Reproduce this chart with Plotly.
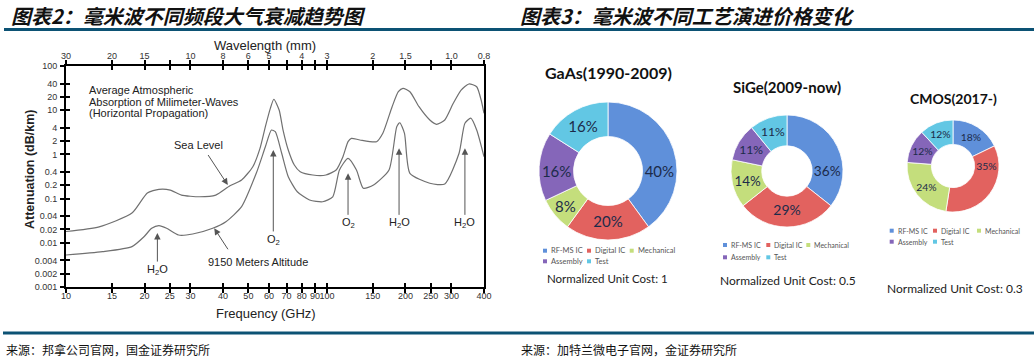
import math
import plotly.graph_objects as go

W, H = 1034, 364

# ---------------- data: atmospheric attenuation (left) ----------------
freq_sea = [10, 13.4, 17.9, 20.5, 22.7, 25.1, 27.7, 32.5, 37.5, 42.5, 47.1, 52, 55.4, 58.1,
            60.7, 62.6, 65.6, 67.9, 71.1, 75, 79, 88.3, 99.1, 108.5, 115.2, 120.5, 124.1,
            133.8, 155, 163.8, 177.8, 187.8, 195.6, 208, 225.4, 248, 263, 283, 305, 326.8,
            350, 375, 390, 400]
att_sea = [0.018, 0.023, 0.047, 0.134, 0.162, 0.156, 0.12, 0.11, 0.12, 0.195, 0.264, 0.527,
           1.37, 4.24, 11.0, 17.7, 10.1, 3.56, 1.26, 0.575, 0.406, 0.342, 0.342, 0.444, 0.887,
           1.94, 2.31, 2.12, 1.94, 3.0, 12.0, 26.2, 31.3, 26.2, 12.0, 6.0, 4.8, 6.0, 14.3,
           28.6, 39.2, 34.0, 17.0, 8.5]
freq_alt = [10, 13.8, 17.9, 19.9, 21.3, 22.7, 24.3, 27.0, 30.6, 36.5, 41, 47.1, 53.6, 58.1,
            61.3, 63.4, 67.1, 71.1, 77, 85.8, 96.3, 105.3, 111.7, 120.5, 129.8, 137.9, 150.9,
            173, 185.2, 190.3, 198.3, 208, 248, 283, 321, 338, 356, 375, 400]
att_alt = [0.0053, 0.0063, 0.0082, 0.0137, 0.0213, 0.0244, 0.0213, 0.015, 0.0158, 0.0213,
           0.030, 0.0656, 0.373, 1.49, 3.56, 3.26, 1.06, 0.313, 0.143, 0.093, 0.085, 0.110,
           0.444, 0.817, 0.444, 0.171, 0.203, 0.444, 4.24, 5.2, 3.0, 0.373, 0.222, 0.214,
           1.06, 5.06, 6.6, 3.56, 0.887]

freq_ticks = [10, 15, 20, 25, 30, 40, 50, 60, 70, 80, 90, 100, 150, 200, 250, 300, 400]
freq_tick_labels = [str(v) for v in freq_ticks]
att_ticks = [100, 40, 20, 10, 4, 2, 1, 0.4, 0.2, 0.1, 0.04, 0.02, 0.01, 0.004, 0.002, 0.001]
att_tick_labels = ["100", "40", "20", "10", "4", "2", "1", "0.4", "0.2", "0.1", "0.04",
                   "0.02", "0.01", "0.004", "0.002", "0.001"]
wave_label_freq = [10, 15, 20, 30, 40, 50, 60, 80, 100, 150, 200, 300, 400]
wave_labels = ["30", "20", "15", "10", "8", "6", "5", "4", "3", "2", "1.5", "1.0", "0.8"]

# absorption-line markers: (label, frequency GHz, attenuation at arrow tip, text offset px)
lines_lbl = ["H<sub>2</sub>O", "O<sub>2</sub>", "O<sub>2</sub>", "H<sub>2</sub>O", "H<sub>2</sub>O"]
lines_freq = [22.4, 62.3, 120.5, 189, 338]
lines_att = [0.0166, 1.26, 0.373, 1.37, 1.37]
lines_off = [37, 90, 50, 75, 75]

# ---------------- data: donuts (right) ----------------
segments = ["RF-MS IC", "Digital IC", "Mechanical", "Assembly", "Test"]
seg_colors = ["#5F90DA", "#E2625F", "#C4DE7C", "#8566B9", "#62C7E4"]
donut_titles = ["GaAs(1990-2009)", "SiGe(2009-now)", "CMOS(2017-)"]
donut_costs = ["Normalized Unit Cost: 1", "Normalized Unit Cost: 0.5", "Normalized Unit Cost: 0.3"]
gaas_share = [40, 20, 8, 16, 16]
sige_share = [36, 29, 14, 11, 11]
cmos_share = [18, 35, 24, 12, 12]


def px(x):
    return x / W


def py(y):
    return 1 - y / H


LF = "Liberation Sans, Arial, sans-serif"
RF = "Lato, Open Sans, sans-serif"
CJK = "Noto Sans CJK SC"

fig = go.Figure()

fig.add_trace(go.Scatter(x=freq_sea, y=att_sea, mode="lines", line=dict(color="#707070", width=1.2,
                         shape="spline", smoothing=0.6), showlegend=False, hoverinfo="skip"))
fig.add_trace(go.Scatter(x=freq_alt, y=att_alt, mode="lines", line=dict(color="#707070", width=1.2,
                         shape="spline", smoothing=0.6), showlegend=False, hoverinfo="skip"))
# helpers to make overlay axes exist
fig.add_trace(go.Scatter(x=[10], y=[1], xaxis="x2", yaxis="y", mode="markers",
                         marker=dict(opacity=0), showlegend=False, hoverinfo="skip"))
fig.add_trace(go.Scatter(x=[10], y=[1], xaxis="x3", yaxis="y3", mode="markers",
                         marker=dict(opacity=0), showlegend=False, hoverinfo="skip"))

xr = [1, math.log10(400)]
yr = [-3, 2]
xdom = [px(66), px(484)]
ydom = [py(287), py(66)]
tickfont = dict(family=LF, size=9, color="#333")

fig.update_layout(
    width=W, height=H, margin=dict(l=0, r=0, t=0, b=0, pad=0, autoexpand=False),
    paper_bgcolor="white", plot_bgcolor="white",
    xaxis=dict(type="log", range=xr, domain=xdom, anchor="y", tickmode="array",
               tickvals=freq_ticks, ticktext=freq_tick_labels, ticks="outside", ticklen=4,
               tickwidth=1.5, tickcolor="black", showline=True, linecolor="black", linewidth=2,
               mirror="ticks", showgrid=False, zeroline=False, tickfont=tickfont,
               tickangle=0, automargin=False, ticklabelstandoff=-5),
    xaxis2=dict(type="log", range=xr, overlaying="x", side="top", anchor="y", tickmode="array",
                tickvals=wave_label_freq, ticktext=wave_labels, ticks="", showline=False,
                showgrid=False, zeroline=False, tickfont=tickfont, tickangle=0,
                automargin=False, ticklabelstandoff=4),
    xaxis3=dict(type="log", range=xr, overlaying="x", anchor="y3", tickmode="array",
                tickvals=freq_ticks, ticks="inside", ticklen=4, tickwidth=1.5, tickcolor="black",
                showticklabels=False, showline=True, linecolor="black", linewidth=2,
                mirror="ticks", showgrid=False, zeroline=False, automargin=False),
    yaxis=dict(type="log", range=yr, domain=ydom, anchor="x", tickmode="array",
               tickvals=att_ticks, ticktext=att_tick_labels, ticks="outside", ticklen=4,
               tickwidth=1.5, tickcolor="black", showline=True, linecolor="black", linewidth=2,
               mirror=True, showgrid=False, zeroline=False, tickfont=tickfont,
               automargin=False, ticklabelstandoff=1),
    yaxis3=dict(type="log", range=yr, overlaying="y", anchor="x3", side="left", tickmode="array",
                tickvals=att_ticks, ticks="inside", ticklen=4, tickwidth=1.5, tickcolor="black",
                showticklabels=False, showline=False, showgrid=False, zeroline=False,
                automargin=False),
)

ann = []


def text_ann(text, x, y, size, family, color="#222", xanchor="center", **kw):
    ann.append(dict(text=text, x=px(x), y=py(y), xref="paper", yref="paper", xanchor=xanchor,
                    yanchor="middle", showarrow=False,
                    font=dict(family=family, size=size, color=color, **kw.pop("fontkw", {})), **kw))


# axis titles
text_ann("Wavelength (mm)", 265, 45, 13, LF)
text_ann("Frequency (GHz)", 266, 313, 13, LF)
text_ann("<b>Attenuation (dB/km)</b>", 30, 170, 12.5, LF, textangle=-90)
# descriptive text
for t, yy in zip(["Average Atmospheric", "Absorption of Milimeter-Waves", "(Horizontal Propagation)"],
                 [90, 101.7, 112.7]):
    text_ann(t, 87, yy, 11, LF, xanchor="left")
text_ann("Sea Level", 198, 145, 11, LF)
text_ann("9150 Meters Altitude", 206, 262, 11, LF, xanchor="left")
# curve pointer arrows
arrow_style = dict(showarrow=True, arrowhead=2, arrowsize=1.3, arrowwidth=1, arrowcolor="#555")
ann.append(dict(text=" ", x=math.log10(41.7), y=math.log10(0.203), xref="x", yref="y",
                ax=-21, ay=-32, font=dict(size=1), **arrow_style))
ann.append(dict(text=" ", x=math.log10(37), y=math.log10(0.0213), xref="x", yref="y",
                ax=15, ay=23, font=dict(size=1), **arrow_style))
for lbl, f, a, off in zip(lines_lbl, lines_freq, lines_att, lines_off):
    ann.append(dict(text=lbl, x=math.log10(f), y=math.log10(a), xref="x", yref="y", ax=0, ay=off,
                    font=dict(family=LF, size=11, color="#222"), **arrow_style))

# headers / sources
text_ann("<b>图表2：毫米波不同频段大气衰减趋势图</b>", 9, 16, 20, CJK, color="#111", xanchor="left",
         fontkw=dict(style="italic"))
text_ann("<b>图表3：毫米波不同工艺演进价格变化</b>", 518, 16, 20, CJK, color="#111", xanchor="left",
         fontkw=dict(style="italic"))
text_ann("来源：邦拿公司官网，国金证券研究所", 4, 349, 12, CJK, color="#111", xanchor="left")
text_ann("来源：加特兰微电子官网，金证券研究所", 519, 349, 12, CJK, color="#111", xanchor="left")

shapes = [
    dict(type="line", xref="paper", yref="paper", x0=px(4), x1=px(519), y0=py(29.5), y1=py(29.5),
         line=dict(color="#0c5274", width=3)),
    dict(type="line", xref="paper", yref="paper", x0=px(517), x1=1, y0=py(29.5), y1=py(29.5),
         line=dict(color="#0c5274", width=3)),
    dict(type="line", xref="paper", yref="paper", x0=px(3), x1=1, y0=py(333), y1=py(333),
         line=dict(color="#0c5274", width=3)),
]

# ---------------- donuts ----------------
donuts = [
    dict(values=gaas_share, cx=608, cy=171, r=69, hole=0.5, fs=15, title_y=73, title_fs=16,
         leg_x=[545, 589, 631.7], leg_y=[250.7, 261.3], leg_fs=7.5, cost_y=278, cost_fs=11.5, cost_x=607),
    dict(values=sige_share, cx=787, cy=171, r=56, hole=0.45, fs=14, title_y=87, title_fs=15,
         leg_x=[725, 768.3, 808.3], leg_y=[245, 257.3], leg_fs=7, cost_y=280, cost_fs=12, cost_x=788),
    dict(values=cmos_share, cx=953, cy=166, r=46, hole=0.47, fs=12, title_y=99, title_fs=14,
         leg_x=[891.7, 935, 979], leg_y=[230.7, 241.7], leg_fs=7, cost_y=288, cost_fs=12, cost_x=955),
]
for d, title, cost in zip(donuts, donut_titles, donut_costs):
    fig.add_trace(go.Pie(
        labels=segments, values=d["values"], text=[f"{v}%" for v in d["values"]],
        textinfo="text", textposition="inside", insidetextorientation="horizontal",
        hole=d["hole"], sort=False, direction="clockwise", rotation=0,
        marker=dict(colors=seg_colors, line=dict(color="white", width=0.8)),
        textfont=dict(family=RF, size=d["fs"], color="#1c2b4a"),
        domain=dict(x=[px(d["cx"] - d["r"]), px(d["cx"] + d["r"])],
                    y=[py(d["cy"] + d["r"]), py(d["cy"] - d["r"])]),
        showlegend=False, hoverinfo="skip"))
    text_ann(f"<b>{title}</b>", d["cx"], d["title_y"], d["title_fs"], RF, color="#111")
    text_ann(cost, d["cost_x"], d["cost_y"], d["cost_fs"], RF)
    for i, (seg, col) in enumerate(zip(segments, seg_colors)):
        lx = d["leg_x"][i % 3]
        ly = d["leg_y"][i // 3]
        shapes.append(dict(type="rect", xref="paper", yref="paper", x0=px(lx - 2), x1=px(lx + 2),
                           y0=py(ly + 2), y1=py(ly - 2), fillcolor=col, line=dict(width=0)))
        text_ann(seg, lx + 4, ly, d["leg_fs"], RF, color="#555", xanchor="left")

fig.update_layout(annotations=ann, shapes=shapes)
fig.write_html("out.html", config={"displayModeBar": False},
               post_script="document.body.style.margin='0';document.body.style.overflow='hidden';")
